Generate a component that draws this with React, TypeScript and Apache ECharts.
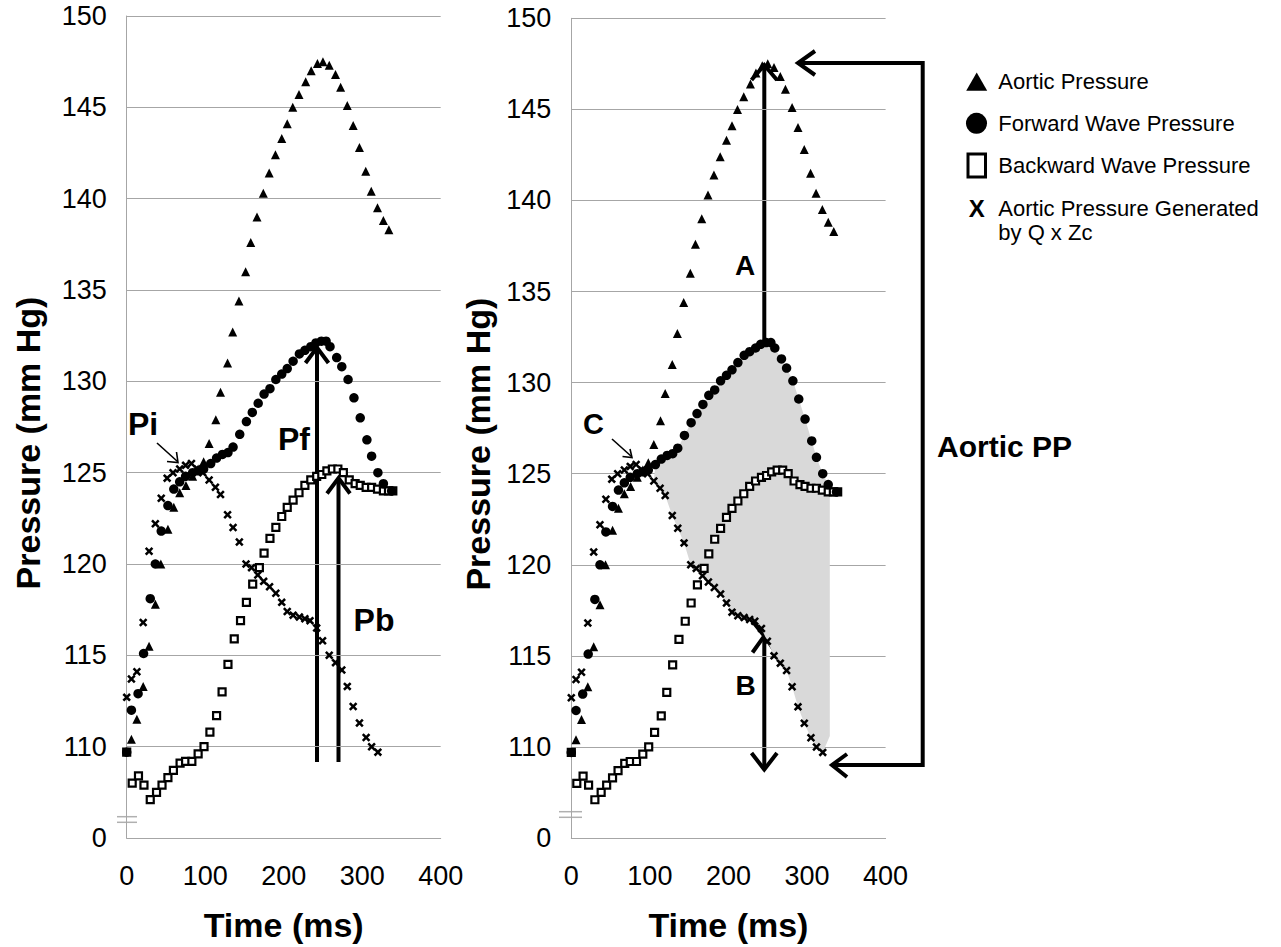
import React, { useEffect, useRef } from "react";
import * as echarts from "echarts";

// ---------- data (time in ms, pressure in mm Hg) ----------
const aorticPressure: [number, number][] = [
  [6, 110.4], [13, 111.5], [21, 113.3], [28.5, 115.5], [36.5, 117.8], [43.5, 120.0], [52.5, 121.9],
  [60, 123.1], [67.5, 123.9], [75.5, 124.3], [84, 124.8], [91, 125.2], [98, 125.6], [105, 126.6],
  [113.5, 127.9], [119.5, 129.4], [128.5, 131.0], [135, 132.7], [143, 134.4], [151.5, 136.0],
  [158, 137.6], [166, 139.0], [174, 140.3], [181.5, 141.4], [189.5, 142.4], [197.5, 143.3],
  [204.5, 144.1], [211.5, 145.0], [219.5, 145.7], [228, 146.4], [235, 147.0], [243, 147.4],
  [250, 147.5], [258, 147.3], [266, 146.8], [272.5, 146.1], [281, 145.1], [288.5, 144.0],
  [296.5, 142.8], [304.5, 141.5], [311.5, 140.4], [319.5, 139.5], [327, 138.8], [334, 138.3],
];

const forwardWave: [number, number][] = [
  [0, 109.7], [6, 112.0], [14.5, 112.9], [21.5, 115.1], [30, 118.1], [36.5, 120.0], [44, 121.8],
  [52.5, 123.2], [60, 124.1], [67.5, 124.5], [75, 124.8], [84, 125.0], [91, 125.1], [98, 125.2],
  [107, 125.5], [114.5, 125.8], [122, 126.0], [129, 126.1], [135.5, 126.4], [144, 127.1],
  [152.5, 127.8], [160, 128.3], [167.5, 128.8], [175, 129.3], [182.5, 129.6], [190, 130.1],
  [197.5, 130.4], [204.5, 130.7], [212, 131.1], [220, 131.5], [227, 131.7], [234.5, 131.9],
  [241, 132.1], [248, 132.2], [254, 132.2], [259, 131.9], [267.5, 131.3], [274, 130.8],
  [282, 130.1], [289.5, 129.1], [297.5, 128.0], [306, 126.8], [312, 125.9], [320, 125.0],
  [327, 124.4], [337.5, 124.0],
];

const backwardWave: [number, number][] = [
  [0, 109.7], [7, 108.0], [15, 108.4], [22, 107.9], [30, 107.1], [38, 107.5], [45, 107.9],
  [52.5, 108.3], [59.5, 108.7], [68, 109.1], [75, 109.2], [83, 109.2], [91, 109.6], [98.5, 110.0],
  [106, 110.8], [114.5, 111.7], [121.5, 113.0], [129, 114.5], [137, 115.9], [145, 116.9],
  [152.5, 117.9], [160.5, 118.9], [169, 119.8], [175, 120.6], [182.5, 121.4], [190, 122.0],
  [197.5, 122.6], [204.5, 123.1], [212, 123.5], [219.5, 123.9], [227, 124.3], [234.5, 124.6],
  [242, 124.8], [248.5, 124.9], [255, 125.1], [262, 125.2], [269, 125.2], [276, 125.0],
  [283.5, 124.6], [291, 124.4], [297.5, 124.3], [305, 124.2], [312, 124.2], [319.5, 124.1],
  [327, 124.0], [333.5, 124.0], [339, 124.0],
];

const qZcPressure: [number, number][] = [
  [0, 112.7], [6, 113.7], [13, 114.1], [21, 116.8], [28.5, 120.7], [36.5, 122.2], [44, 123.6],
  [51.5, 124.7], [59, 125.0], [67.5, 125.2], [75, 125.4], [82.5, 125.5], [90, 125.2], [97, 125.0],
  [105, 124.6], [113, 124.2], [119.5, 123.8], [128.5, 122.7], [135.5, 122.0], [143.5, 121.2],
  [152, 120.0], [159, 119.8], [167, 119.4], [174.5, 119.05], [182, 118.75], [190, 118.4],
  [197.5, 117.9], [204.5, 117.4], [212, 117.2], [220, 117.1], [227, 117.0], [233.5, 116.9],
  [242, 116.5], [249.5, 115.8], [258, 115.0], [266, 114.6], [274, 114.2], [281, 113.3],
  [288.5, 112.2], [296.5, 111.3], [305, 110.5], [312, 110.0], [320, 109.7],
];

// right edge of shaded (Pf minus Q x Zc) region
const shadeEdge: [number, number][] = [[329, 124.3], [329, 110.6]];
const shadeStart = 104;

const xTicks = { min: 0, max: 400, step: 100 };
const yTicks = { min: 105, max: 150, step: 5 };
const yBreakLabel = "0";

const legendItems = [
  "Aortic Pressure",
  "Forward Wave Pressure",
  "Backward Wave Pressure",
  "Aortic Pressure Generated",
  "by Q x Zc",
];

// ---------- styles ----------
const FONT = "'Liberation Sans', Arial, sans-serif";
const GRID_GRAY = "#a6a6a6";
const X_SYMBOL = "path://M0,2.1L2.1,0L5,2.9L7.9,0L10,2.1L7.1,5L10,7.9L7.9,10L5,7.1L2.1,10L0,7.9L2.9,5Z";

function makeXAxis(gridIndex: number) {
  return {
    type: "value",
    gridIndex,
    min: xTicks.min,
    max: xTicks.max,
    interval: xTicks.step,
    name: "Time (ms)",
    nameLocation: "middle",
    nameGap: 70,
    nameTextStyle: { fontFamily: FONT, fontSize: 34, fontWeight: "bold", color: "#000" },
    axisLine: { show: true, onZero: false, lineStyle: { color: GRID_GRAY, width: 1 } },
    axisTick: { show: false },
    splitLine: { show: false },
    axisLabel: { fontFamily: FONT, fontSize: 27, color: "#000", margin: 24 },
  };
}

function makeYAxis(gridIndex: number, nameGap: number) {
  return {
    type: "value",
    gridIndex,
    min: yTicks.min,
    max: yTicks.max,
    interval: yTicks.step,
    name: "Pressure (mm Hg)",
    nameLocation: "middle",
    nameGap,
    nameTextStyle: {
      fontFamily: FONT,
      fontSize: 34,
      fontWeight: "bold",
      color: "#000",
      padding: [0, 32, 0, 0],
    },
    axisLine: { show: true, onZero: false, lineStyle: { color: GRID_GRAY, width: 1 } },
    axisTick: { show: false },
    splitLine: { show: true, lineStyle: { color: GRID_GRAY, width: 1 } },
    axisLabel: {
      fontFamily: FONT,
      fontSize: 27,
      color: "#000",
      margin: 20,
      formatter: (v: number) => (v === yTicks.min ? yBreakLabel : String(v)),
    },
  };
}

function makeSeries(idx: number) {
  const base = { type: "scatter", xAxisIndex: idx, yAxisIndex: idx, silent: true, z: 3 };
  return [
    {
      ...base,
      name: "Backward Wave Pressure",
      symbol: "rect",
      symbolSize: 7,
      itemStyle: { color: "#fff", borderColor: "#000", borderWidth: 2.2, opacity: 1 },
      data: backwardWave.map((p, i) =>
        i === 0 ? { value: p, itemStyle: { color: "#000" } } : p
      ),
    },
    {
      ...base,
      name: "Forward Wave Pressure",
      symbol: "circle",
      symbolSize: 9.5,
      itemStyle: { color: "#000", opacity: 1 },
      data: forwardWave,
    },
    {
      ...base,
      name: "Aortic Pressure",
      symbol: "triangle",
      symbolSize: 9,
      itemStyle: { color: "#000", opacity: 1 },
      data: aorticPressure,
    },
    {
      ...base,
      name: "Aortic Pressure Generated by Q x Zc",
      symbol: X_SYMBOL,
      symbolSize: 8.5,
      itemStyle: { color: "#000", opacity: 1 },
      data: qZcPressure,
    },
  ];
}

const shadePolygon: [number, number][] = [
  ...forwardWave.filter((p) => p[0] >= shadeStart && p[0] <= shadeEdge[0][0]),
  ...shadeEdge,
  ...qZcPressure.filter((p) => p[0] >= shadeStart && p[0] <= shadeEdge[0][0]).reverse(),
];

const stroke = (w: number) => ({ stroke: "#000", lineWidth: w, fill: "none" });
const line = (x1: number, y1: number, x2: number, y2: number, w: number, color = "#000") => ({
  type: "line",
  silent: true,
  shape: { x1, y1, x2, y2 },
  style: { stroke: color, lineWidth: w },
});
const head = (pts: number[][], w: number) => ({
  type: "polyline",
  silent: true,
  shape: { points: pts },
  style: stroke(w),
});
const label = (text: string, x: number, y: number, size: number, bold = true, align = "center") => ({
  type: "text",
  silent: true,
  x,
  y,
  style: {
    text,
    fontFamily: FONT,
    fontSize: size,
    fontWeight: bold ? "bold" : "normal",
    fill: "#000",
    align,
    verticalAlign: "middle",
  },
});

const graphics = [
  // left chart annotations
  label("Pi", 143, 424, 32),
  line(157, 443, 177.5, 461.5, 1.6),
  head([[167, 461.5], [178, 462.5], [176.5, 452]], 1.6),
  label("Pf", 294, 439, 32),
  line(317, 762, 317, 349, 4),
  head([[305.5, 363], [317, 347.5], [328.5, 363]], 4),
  label("Pb", 374, 620, 32),
  line(338.5, 762, 338.5, 480, 4),
  head([[327, 493.5], [338.5, 478], [350, 493.5]], 4),
  line(117, 816.7, 137, 816.7, 1.5, "#b0b0b0"),
  line(117, 822.3, 137, 822.3, 1.5, "#b0b0b0"),
  // right chart annotations
  label("C", 593.5, 424, 29),
  line(612, 439, 631.5, 456.5, 1.6),
  head([[622.5, 456.5], [632, 457.5], [630, 449]], 1.6),
  label("A", 745, 265, 28),
  label("B", 745.5, 685, 28),
  line(764.3, 67, 764.3, 768, 4),
  head([[751.5, 80], [764.3, 65], [777, 80]], 4),
  head([[751.5, 620], [764.3, 636], [777, 620]], 4),
  head([[752.5, 652.5], [764.3, 636], [776, 652.5]], 4),
  head([[751.5, 753], [764.3, 769.5], [777, 753]], 4),
  head([[800, 63], [922.7, 63], [922.7, 765], [834, 765]], 4),
  head([[815, 51], [798, 63], [815, 75]], 4),
  head([[847, 754], [832, 765], [847, 777]], 4),
  line(559, 811.7, 582, 811.7, 1.5, "#b0b0b0"),
  line(559, 817.3, 582, 817.3, 1.5, "#b0b0b0"),
  label("Aortic PP", 1004.5, 446.5, 30),
  // legend
  {
    type: "polygon",
    silent: true,
    shape: { points: [[976.7, 72.5], [966.2, 90.8], [987.2, 90.8]] },
    style: { fill: "#000" },
  },
  { type: "circle", silent: true, shape: { cx: 976.5, cy: 123.3, r: 10.5 }, style: { fill: "#000" } },
  {
    type: "rect",
    silent: true,
    shape: { x: 968, y: 154, width: 17.5, height: 23 },
    style: { fill: "#fff", stroke: "#000", lineWidth: 3 },
  },
  label("X", 976.7, 208, 24),
  label(legendItems[0], 998.3, 81.7, 22, false, "left"),
  label(legendItems[1], 998.3, 123.3, 22, false, "left"),
  label(legendItems[2], 998.3, 165.5, 22, false, "left"),
  label(legendItems[3], 998.3, 208, 22, false, "left"),
  label(legendItems[4], 998.3, 232.5, 22, false, "left"),
];

const option = {
  animation: false,
  backgroundColor: "#fff",
  grid: [
    { left: 126.7, top: 16, width: 314, height: 822.7 },
    { left: 571.3, top: 18.3, width: 314.3, height: 822.7 },
  ],
  xAxis: [makeXAxis(0), makeXAxis(1)],
  yAxis: [makeYAxis(0, 82), makeYAxis(1, 76)],
  series: [
    {
      type: "custom",
      name: "Pf - Q x Zc area",
      xAxisIndex: 1,
      yAxisIndex: 1,
      silent: true,
      z: 1,
      data: [[200, 120]],
      renderItem: (_params: any, api: any) => ({
        type: "polygon",
        shape: { points: shadePolygon.map((p) => api.coord(p)) },
        style: { fill: "#d9d9d9" },
      }),
    },
    ...makeSeries(0),
    ...makeSeries(1),
  ],
  graphic: graphics,
};

export default function App() {
  const ref = useRef<HTMLDivElement>(null);
  useEffect(() => {
    if (!ref.current) return;
    const chart = echarts.init(ref.current, null, { renderer: "svg" });
    chart.setOption(option as any);
    return () => chart.dispose();
  }, []);
  return (
    <div
      ref={ref}
      style={{ position: "absolute", left: 0, top: 0, width: 1281, height: 947, background: "#fff" }}
    />
  );
}
